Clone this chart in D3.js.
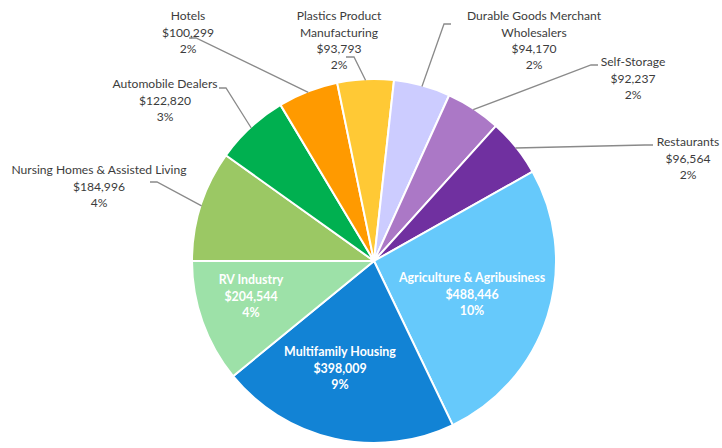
<!DOCTYPE html>
<html>
<head>
<meta charset="utf-8">
<script src="https://cdn.jsdelivr.net/npm/d3@7/dist/d3.min.js"></script>
<style>
  html, body { margin: 0; padding: 0; background: #ffffff; }
  svg { display: block; }
  text { font-family: Lato, "Open Sans", "Noto Sans", sans-serif; }
</style>
</head>
<body>
<svg id="chart" width="722" height="448"></svg>
<script>
// Loan totals by industry, in clockwise order starting at 9 o'clock
const categories = [
  ["Nursing Homes & Assisted Living"],
  ["Automobile Dealers"],
  ["Hotels"],
  ["Plastics Product", "Manufacturing"],
  ["Durable Goods Merchant", "Wholesalers"],
  ["Self-Storage"],
  ["Restaurants"],
  ["Agriculture & Agribusiness"],
  ["Multifamily Housing"],
  ["RV Industry"]
];
const values = [184996, 122820, 100299, 93793, 94170, 92237, 96564, 488446, 398009, 204544];
const shareLabels = ["4%", "3%", "2%", "2%", "2%", "2%", "2%", "10%", "9%", "4%"];
const colors = ["#9bc864", "#00b050", "#ff9a00", "#ffc935", "#ccccff", "#ab78c6", "#7030a0", "#66c9fb", "#1283d5", "#9de1a8"];

// Label placement: centre of the first text line, plus leader anchor/elbow (outside labels only)
const labelLayout = [
  { x: 99,  y: 170, inside: false, anchor: [150, 182], elbow: [157, 182] },
  { x: 165, y: 84,  inside: false, anchor: [219, 88],  elbow: [226, 88] },
  { x: 188, y: 16,  inside: false, anchor: [189, 38],  elbow: [196, 38] },
  { x: 339, y: 16,  inside: false, anchor: [346, 57],  elbow: [354, 57] },
  { x: 534, y: 16,  inside: false, anchor: [451, 24],  elbow: [444, 24] },
  { x: 633, y: 62,  inside: false, anchor: [598, 65],  elbow: [591, 65] },
  { x: 688, y: 142, inside: false, anchor: [653, 145], elbow: [645, 145] },
  { x: 472, y: 278, inside: true },
  { x: 340, y: 352, inside: true },
  { x: 251, y: 280, inside: true }
];

const cx = 374, cy = 261, radius = 182;
const lineH = 16.3;

const svg = d3.select("#chart");
const g = svg.append("g").attr("transform", `translate(${cx},${cy})`);

const pie = d3.pie()
  .sort(null)
  .value(d => d)
  .startAngle(-Math.PI / 2)
  .endAngle(3 * Math.PI / 2);

const arcs = pie(values);
const arc = d3.arc().innerRadius(0).outerRadius(radius);

g.selectAll("path.slice")
  .data(arcs)
  .join("path")
  .attr("class", "slice")
  .attr("d", arc)
  .attr("fill", (d, i) => colors[i])
  .attr("stroke", "#ffffff")
  .attr("stroke-width", 2)
  .attr("stroke-linejoin", "round");

const fmt = d3.format(",");

// Leader lines from outside labels to slice edge
const edgePoint = d => {
  const a = (d.startAngle + d.endAngle) / 2;
  return [cx + Math.sin(a) * (radius - 1), cy - Math.cos(a) * (radius - 1)];
};

svg.selectAll("polyline.leader")
  .data(arcs.filter((d, i) => !labelLayout[i].inside))
  .join("polyline")
  .attr("class", "leader")
  .attr("fill", "none")
  .attr("stroke", "#8a8a8a")
  .attr("stroke-width", 1.3)
  .attr("points", d => {
    const L = labelLayout[d.index];
    return [L.anchor, L.elbow, edgePoint(d)].map(p => p.join(",")).join(" ");
  });

// Labels: category name lines, dollar value, share
const labels = svg.selectAll("text.label")
  .data(arcs)
  .join("text")
  .attr("class", "label")
  .attr("text-anchor", "middle")
  .attr("font-size", (d, i) => labelLayout[i].inside ? 12.4 : 12.1)
  .attr("font-weight", (d, i) => labelLayout[i].inside ? 700 : 400)
  .attr("fill", (d, i) => labelLayout[i].inside ? "#ffffff" : "#3c3c3c");

labels.each(function(d, i) {
  const L = labelLayout[i];
  const lines = [...categories[i], "$" + fmt(values[i]), shareLabels[i]];
  d3.select(this).selectAll("tspan")
    .data(lines)
    .join("tspan")
    .attr("x", L.x)
    .attr("y", (t, k) => L.y + k * lineH + 4.3)
    .text(t => t);
});
</script>
</body>
</html>
